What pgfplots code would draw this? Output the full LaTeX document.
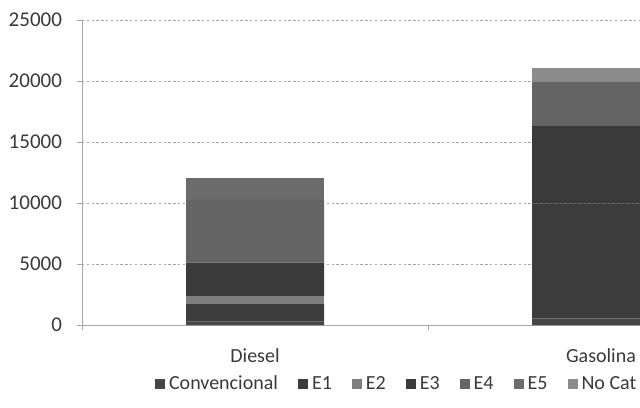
\documentclass[border=0pt]{standalone}
\usepackage{fontspec}
\setmainfont{Carlito}
\usepackage{pgfplots}
\pgfplotsset{compat=1.18}

\definecolor{cConv}{HTML}{464646}
\definecolor{cEone}{HTML}{3C3C3C}
\definecolor{cEtwo}{HTML}{7E7E7E}
\definecolor{cEthree}{HTML}{3A3A3A}
\definecolor{cEfour}{HTML}{646464}
\definecolor{cEfive}{HTML}{6C6C6C}
\definecolor{cNoCat}{HTML}{8C8C8C}
\definecolor{axgray}{HTML}{A6A6A6}
\definecolor{txt}{HTML}{3A3A3A}

\begin{document}
\begin{tikzpicture}
% picture is cropped like the reference (1px = 0.5pt)
\useasboundingbox (0,0) rectangle (320pt,203.5pt);
\clip (0,0) rectangle (320pt,203.5pt);
\fill[white] (0,0) rectangle (320pt,203.5pt);
\begin{axis}[
  at={(41pt,41pt)}, anchor=south west,
  scale only axis, width=346pt, height=152.5pt,
  ybar stacked, bar width=69pt,
  xmin=-0.5, xmax=1.5, ymin=0, ymax=25000,
  axis x line*=bottom, axis y line*=left,
  axis line style={axgray},
  xtick={-0.5,0.5,1.5}, xticklabels={Diesel,Gasolina},
  x tick label as interval,
  ytick={0,5000,10000,15000,20000,25000},
  scaled y ticks=false,
  /pgf/number format/1000 sep={},
  /pgf/number format/assume math mode=true,
  tick align=outside, major tick length=2.5pt,
  tick style={axgray},
  ticklabel style={font=\fontsize{10}{12}\selectfont, text=txt},
  xticklabel style={yshift=-6pt},
  yticklabel style={xshift=-4pt, font=\fontsize{10.5}{12}\selectfont},
  ymajorgrids, major grid style={axgray, dash pattern=on 1.2pt off 1.2pt},
  legend style={at={(0.105,-0.195)}, anchor=west, draw=none, fill=none,
    font=\fontsize{10}{12}\selectfont, text=txt,
    legend columns=7, inner sep=0pt,
    /tikz/every even column/.append style={column sep=8pt}},
  legend image code/.code={\fill[#1] (0pt,-2.5pt) rectangle (5pt,2.5pt);},
]
\addplot[fill=cConv, draw=none] coordinates {(0,270) (1,550)};
\addplot[fill=cEone, draw=none] coordinates {(0,1510) (1,9420)};
\addplot[fill=cEtwo, draw=none] coordinates {(0,600) (1,0)};
\addplot[fill=cEthree, draw=none] coordinates {(0,2730) (1,6340)};
\addplot[fill=cEfour, draw=none] coordinates {(0,5140) (1,3590)};
\addplot[fill=cEfive, draw=none] coordinates {(0,1800) (1,0)};
\addplot[fill=cNoCat, draw=none] coordinates {(0,0) (1,1140)};
\legend{Convencional,E1,E2,E3,E4,E5,No Cat}
\end{axis}
\end{tikzpicture}
\end{document}
